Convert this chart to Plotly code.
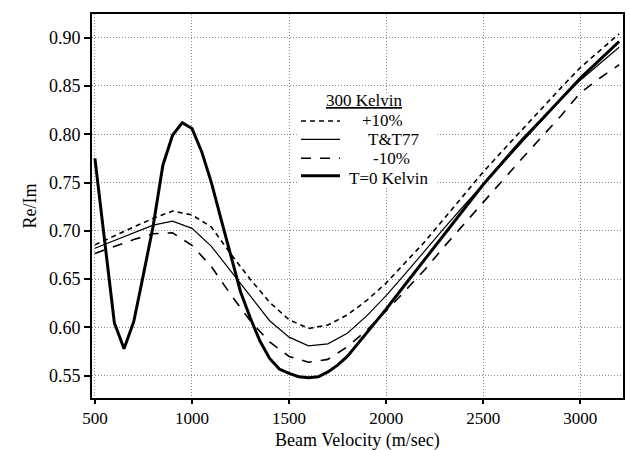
import plotly.graph_objects as go

# 300 Kelvin curves (velocity in m/s)
v300 = [500, 600, 700, 800, 900, 1000, 1100, 1200, 1300, 1400, 1500, 1600, 1700, 1800,
        1900, 2000, 2100, 2200, 2300, 2400, 2500, 2600, 2700, 2800, 2900, 3000, 3100, 3200]
plus10 = [0.6855, 0.695, 0.704, 0.713, 0.7205, 0.7165, 0.704, 0.676, 0.650, 0.626, 0.608,
          0.599, 0.6025, 0.613, 0.628, 0.646, 0.667, 0.689, 0.713, 0.737, 0.761, 0.783,
          0.805, 0.827, 0.848, 0.869, 0.887, 0.904]
tt77 = [0.682, 0.690, 0.698, 0.706, 0.710, 0.7026, 0.684, 0.658, 0.633, 0.607, 0.590,
        0.581, 0.583, 0.594, 0.612, 0.633, 0.656, 0.680, 0.703, 0.726, 0.748, 0.770,
        0.792, 0.814, 0.836, 0.856, 0.873, 0.890]
minus10 = [0.6767, 0.684, 0.691, 0.697, 0.698, 0.685, 0.663, 0.634, 0.607, 0.585, 0.570,
           0.564, 0.567, 0.580, 0.597, 0.617, 0.638, 0.660, 0.684, 0.707, 0.729, 0.752,
           0.775, 0.797, 0.819, 0.843, 0.858, 0.872]

# T = 0 Kelvin curve
v0 = [500, 600, 650, 700, 750, 800, 850, 900, 950, 1000, 1050, 1100, 1150, 1200, 1250,
      1300, 1350, 1400, 1450, 1500, 1550, 1600, 1650, 1700, 1750, 1800, 1900, 2000, 2100,
      2200, 2300, 2400, 2500, 2600, 2700, 2800, 2900, 3000, 3100, 3200]
t0 = [0.775, 0.605, 0.578, 0.606, 0.655, 0.705, 0.768, 0.799, 0.812, 0.806, 0.782, 0.750,
      0.712, 0.675, 0.637, 0.610, 0.586, 0.568, 0.557, 0.5525, 0.549, 0.548, 0.549, 0.554,
      0.561, 0.570, 0.594, 0.619, 0.645, 0.671, 0.696, 0.722, 0.748, 0.771, 0.794, 0.815,
      0.837, 0.858, 0.877, 0.896]

x_ticks = [500, 1000, 1500, 2000, 2500, 3000]
y_ticks = [0.55, 0.60, 0.65, 0.70, 0.75, 0.80, 0.85, 0.90]

x_title = "Beam Velocity (m/sec)"
y_title = "Re/Im"
legend_title = "300 Kelvin"
series_names = ["+10%", "T&T77", "-10%", "T=0 Kelvin"]

FONT = "Liberation Serif"
styles = [
    dict(color="black", width=1.6, dash="5px,4px"),
    dict(color="black", width=1.2),
    dict(color="black", width=1.6, dash="10px,9px"),
    dict(color="black", width=3),
]

fig = go.Figure()
for xs, ys, name, st in zip([v300, v300, v300, v0], [plus10, tt77, minus10, t0],
                            series_names, styles):
    fig.add_trace(go.Scatter(x=xs, y=ys, mode="lines", name=name, line=st,
                             showlegend=False, hoverinfo="skip"))

axis_common = dict(
    showline=True, linecolor="black", linewidth=2, mirror=True,
    ticks="outside", tickwidth=1.5, tickcolor="black",
    showgrid=True, gridcolor="#8c8c8c", griddash="1px,2px", gridwidth=1,
    zeroline=False, automargin=False,
)

# manual legend (paper coordinates)
shapes = [dict(type="rect", xref="paper", yref="paper", x0=0.386, x1=0.648,
               y0=0.552, y1=0.794, fillcolor="white", line=dict(width=0), layer="above")]
sample_y = [0.7214, 0.6737, 0.6242, 0.5789]
text_x = [0.5066, 0.5179, 0.5273, 0.4821]
text_y = [0.7214, 0.6719, 0.6224, 0.5710]
annotations = [
    dict(text="<u>" + legend_title + "</u>", xref="paper", yref="paper",
         x=0.4388, y=0.7740, xanchor="left", yanchor="middle", showarrow=False,
         borderpad=0, font=dict(family=FONT, size=17, color="black")),
    dict(text=x_title, xref="paper", yref="paper", x=0.5, y=-0.1094,
         xanchor="center", yanchor="middle", showarrow=False, borderpad=0,
         font=dict(family=FONT, size=18, color="black")),
]
for name, st, sy, tx, ty in zip(series_names, styles, sample_y, text_x, text_y):
    shapes.append(dict(type="line", xref="paper", yref="paper", x0=0.3936, x1=0.4670,
                       y0=sy, y1=sy, line=st, layer="above"))
    annotations.append(dict(text=name, xref="paper", yref="paper", x=tx, y=ty,
                            xanchor="left", yanchor="middle", showarrow=False,
                            borderpad=0, font=dict(family=FONT, size=17, color="black")))

fig.update_layout(
    width=630, height=450,
    margin=dict(l=92, r=7, t=14, b=52),
    paper_bgcolor="white", plot_bgcolor="white",
    font=dict(family=FONT, size=18, color="black"),
    xaxis=dict(range=[485, 3220], tickvals=x_ticks, ticklen=4,
               tickfont=dict(family=FONT, size=17, color="black"), **axis_common),
    yaxis=dict(range=[0.527, 0.9245], tickvals=y_ticks, tickformat=".2f", ticklen=6,
               tickfont=dict(family=FONT, size=18, color="black"),
               title=dict(text=y_title, font=dict(family=FONT, size=18), standoff=8),
               **axis_common),
    shapes=shapes,
    annotations=annotations,
    showlegend=False,
)

fig.write_html("out.html", config={"displayModeBar": False},
               post_script="document.body.style.margin='0';")
